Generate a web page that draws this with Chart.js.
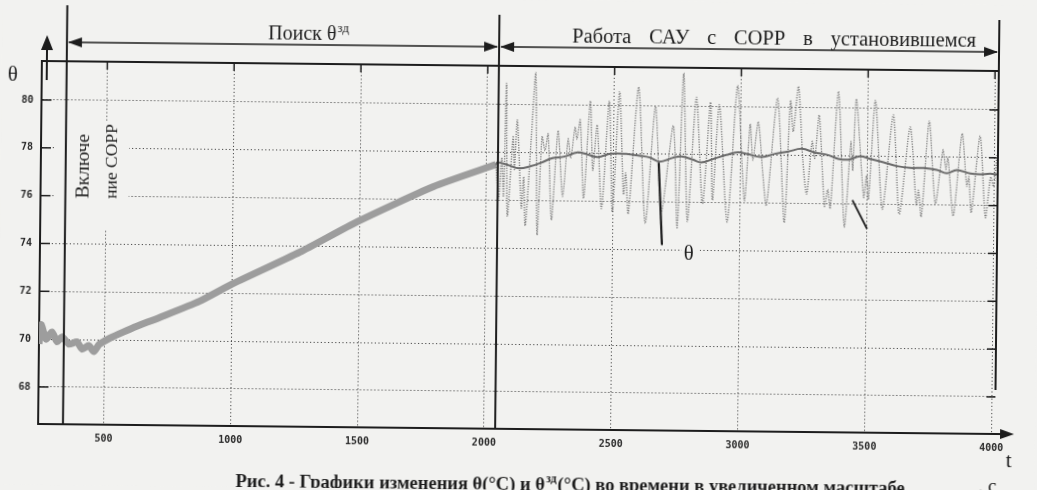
<!DOCTYPE html>
<html>
<head>
<meta charset="utf-8">
<script src="https://cdn.jsdelivr.net/npm/chart.js@4.4.0/dist/chart.umd.min.js"></script>
<style>
  html, body { margin: 0; padding: 0; background: #f2f2f0; overflow: hidden; }
  #canvas { display: block; transform: rotate(0.6deg); }
</style>
</head>
<body>
<canvas id="canvas" width="1037" height="490"></canvas>
<script>
// search phase (theta follows the ramp of the setpoint)
const searchT = [242, 250, 270, 293, 313, 333, 360, 392, 412, 439, 459, 479, 518, 557, 609, 715, 873, 995, 1267, 1492, 1791, 2036];
const searchV = [69.8, 70.6, 70.0, 70.3, 69.9, 70.1, 69.8, 69.9, 69.6, 69.75, 69.5, 69.8, 70.05, 70.25, 70.5, 70.95, 71.65, 72.35, 73.75, 75.05, 76.55, 77.5];

// steady state: measured theta
const thetaT = [2036, 2048, 2059, 2067, 2075, 2083, 2103, 2109, 2119, 2138, 2146, 2154, 2174, 2190, 2201, 2217, 2229, 2241, 2257, 2280,
  2300, 2320, 2331, 2347, 2355, 2367, 2383, 2406, 2418, 2434, 2454, 2481, 2497, 2521, 2540, 2548, 2560, 2596, 2627, 2663,
  2690, 2734, 2753, 2773, 2793, 2824, 2852, 2880, 2891, 2915, 2950, 2986, 3017, 3037, 3049, 3069, 3088, 3104, 3144, 3175,
  3195, 3207, 3226, 3246, 3262, 3282, 3293, 3309, 3333, 3345, 3356, 3384, 3412, 3435, 3443, 3455, 3487, 3498, 3506, 3530,
  3561, 3601, 3628, 3668, 3695, 3703, 3715, 3743, 3770, 3798, 3810, 3818, 3841, 3873, 3893, 3901, 3912, 3944, 3968, 3987,
  3999, 4011];
const thetaV = [77.5, 76.1, 77.8, 76.2, 80.9, 75.35, 78.7, 77.3, 79.37, 75.7, 77.0, 74.95, 78.5, 81.34, 74.58, 78.7, 78.1, 78.8, 75.2, 78.94,
  76.2, 78.6, 77.8, 79.1, 78.6, 79.4, 76.13, 80.2, 77.3, 79.2, 75.7, 80.2, 75.6, 80.6, 76.3, 77.2, 75.5, 80.8, 75.1, 80.0,
  75.6, 79.2, 74.9, 81.4, 75.2, 80.4, 75.95, 80.2, 76.1, 80.1, 75.2, 80.9, 76.1, 79.3, 77.8, 79.4, 77.3, 75.9, 80.4, 75.2,
  80.3, 79.0, 80.9, 77.8, 76.4, 78.6, 77.9, 79.7, 75.9, 76.6, 75.8, 80.7, 75.05, 78.6, 77.4, 80.4, 76.3, 77.2, 76.2, 80.35,
  75.8, 79.75, 75.6, 79.25, 76.0, 76.6, 75.5, 79.5, 76.05, 78.3, 77.5, 78.0, 75.55, 79.0, 76.8, 77.2, 75.7, 78.9, 75.5, 77.2,
  76.8, 78.1];

// steady state: setpoint theta_zd
const setT = [2036, 2042, 2082, 2128, 2174, 2213, 2259, 2305, 2358, 2397, 2437, 2489, 2549, 2602, 2642, 2681, 2734, 2766, 2812, 2845,
  2891, 2944, 2990, 3030, 3083, 3136, 3188, 3241, 3293, 3346, 3385, 3425, 3471, 3511, 3564, 3617, 3669, 3722, 3774, 3814,
  3853, 3906, 3945, 3985, 4011];
const setV = [77.5, 77.59, 77.49, 77.35, 77.45, 77.59, 77.79, 77.86, 78.04, 77.96, 77.86, 78.0, 78.0, 77.93, 77.86, 77.69, 77.86, 77.92, 77.79, 77.68,
  77.82, 78.0, 78.12, 78.04, 77.93, 78.07, 78.17, 78.29, 78.14, 78.04, 77.89, 77.86, 78.0, 77.9, 77.76, 77.61, 77.54, 77.54, 77.47, 77.33,
  77.47, 77.33, 77.3, 77.33, 77.3];

const xTicks = [500, 1000, 1500, 2000, 2500, 3000, 3500, 4000];
const yTicks = [68, 70, 72, 74, 76, 78, 80];

const onT = 340;       // включение СОРР
const steadyT = 2044;  // начало установившегося режима

const bg = '#f2f2f0';
const ink = '#1d1d1d';
const serif = '"Liberation Serif", "DejaVu Serif", serif';

function pts(ts, vs) {
  return ts.map((t, i) => ({ x: t, y: vs[i] }));
}

function head(ctx, x, y, dir) {
  const L = 14, W = 5;
  ctx.beginPath();
  if (dir === 'r') { ctx.moveTo(x, y); ctx.lineTo(x - L, y - W); ctx.lineTo(x - L, y + W); }
  if (dir === 'l') { ctx.moveTo(x, y); ctx.lineTo(x + L, y - W); ctx.lineTo(x + L, y + W); }
  if (dir === 'u') { ctx.moveTo(x, y); ctx.lineTo(x - 6, y + 15); ctx.lineTo(x + 6, y + 15); }
  ctx.closePath();
  ctx.fill();
}

function line(ctx, x1, y1, x2, y2, w) {
  ctx.lineWidth = w;
  ctx.beginPath();
  ctx.moveTo(x1, y1);
  ctx.lineTo(x2, y2);
  ctx.stroke();
}

const decor = {
  id: 'decor',
  beforeDraw(chart) {
    const ctx = chart.ctx;
    ctx.save();
    ctx.fillStyle = bg;
    ctx.fillRect(0, 0, chart.width, chart.height);
    ctx.restore();
  },
  beforeDatasetsDraw(chart) {
    const ctx = chart.ctx;
    const a = chart.chartArea;
    const sx = chart.scales.x, sy = chart.scales.y;
    ctx.save();
    // blank patches behind the labels
    ctx.fillStyle = bg;
    ctx.fillRect(55, 125, 73, 110);
    const lx = sx.getPixelForValue(2804), ly = sy.getPixelForValue(73.69);
    ctx.fillRect(lx - 8, ly - 17, 18, 22);
    // frame and inward ticks
    ctx.strokeStyle = ink;
    line(ctx, a.left - 1, a.top, a.right, a.top, 2);
    yTicks.forEach(v => {
      const y = sy.getPixelForValue(v);
      line(ctx, a.left, y, a.left + 10, y, 1.5);
      line(ctx, a.right - 9, y, a.right, y, 1.5);
    });
    xTicks.forEach(v => {
      const x = sx.getPixelForValue(v);
      line(ctx, x, a.top, x, a.top + 8, 1.5);
    });
    ctx.restore();
  },
  afterDatasetsDraw(chart) {
    const ctx = chart.ctx;
    const a = chart.chartArea;
    const sx = chart.scales.x, sy = chart.scales.y;
    const xOn = sx.getPixelForValue(onT);
    const xSt = sx.getPixelForValue(steadyT);
    ctx.save();
    ctx.strokeStyle = ink;
    ctx.fillStyle = ink;

    // vertical phase lines
    line(ctx, xOn, 10, xOn, a.bottom, 2);
    line(ctx, xSt, 15, xSt, a.bottom, 2);
    line(ctx, a.right, 15, a.right, 385, 2);

    // phase arrows
    const ay = 47;
    line(ctx, xOn + 2, ay, xSt - 2, ay, 1.5);
    head(ctx, xOn + 1, ay, 'l');
    head(ctx, xSt - 1, ay, 'r');
    line(ctx, xSt + 2, ay, a.right - 2, ay, 1.5);
    head(ctx, xSt + 1, ay, 'l');
    head(ctx, a.right - 1, ay, 'r');

    // y arrow
    line(ctx, 45, 52, 45, 85, 2);
    head(ctx, 45, 40, 'u');

    // x axis arrow
    line(ctx, a.right, a.bottom, 1003, a.bottom, 2);
    head(ctx, 1016, a.bottom, 'r');

    // pointers
    line(ctx, sx.getPixelForValue(2678), sy.getPixelForValue(77.64), sx.getPixelForValue(2694), sy.getPixelForValue(74.21), 2.2);
    line(ctx, sx.getPixelForValue(3443), sy.getPixelForValue(76.17), sx.getPixelForValue(3502), sy.getPixelForValue(74.97), 1.8);

    // texts
    ctx.textBaseline = 'alphabetic';
    ctx.textAlign = 'left';
    ctx.font = '21px ' + serif;
    ctx.fillText('θ', 6, 86);
    ctx.fillText('θ', sx.getPixelForValue(2804) - 6, sy.getPixelForValue(73.69) + 2);
    ctx.fillText('t', 1008, 462);
    ctx.font = '19px ' + serif;
    ctx.fillText(', с', 981, 487);

    // "Поиск θзд"
    ctx.font = '20px ' + serif;
    let s = 'Поиск θ';
    ctx.fillText(s, 266, 42);
    let w = ctx.measureText(s).width;
    ctx.font = '13px ' + serif;
    ctx.fillText('зд', 266 + w + 1, 34);

    // justified phrase over the steady-state arrow
    ctx.font = '20.5px ' + serif;
    const words = ['Работа', 'САУ', 'с', 'СОРР', 'в', 'установившемся'];
    const x0 = 570, x1 = 974;
    const tw = words.reduce((acc, wd) => acc + ctx.measureText(wd).width, 0);
    const gap = (x1 - x0 - tw) / (words.length - 1);
    let cx = x0;
    words.forEach(wd => {
      ctx.fillText(wd, cx, 42);
      cx += ctx.measureText(wd).width + gap;
    });

    // vertical label
    ctx.font = '19.5px ' + serif;
    ctx.save();
    ctx.translate(88, 203);
    ctx.rotate(-Math.PI / 2);
    ctx.fillText('Включе', 0, 0);
    ctx.restore();
    ctx.font = '17.5px ' + serif;
    ctx.save();
    ctx.translate(116, 203);
    ctx.rotate(-Math.PI / 2);
    ctx.fillText('ние СОРР', 0, 0);
    ctx.restore();

    // caption
    ctx.font = 'bold 18.5px ' + serif;
    s = 'Рис. 4 - Графики изменения θ(°С) и θ';
    ctx.fillText(s, 238, 490);
    w = ctx.measureText(s).width;
    ctx.font = 'bold 12px ' + serif;
    ctx.fillText('зд', 238 + w + 1, 482);
    const w2 = ctx.measureText('зд').width;
    ctx.font = 'bold 18.5px ' + serif;
    ctx.fillText('(°С) во времени в увеличенном масштабе', 238 + w + w2 + 2, 490);

    ctx.restore();
  }
};

const canvas = document.getElementById('canvas');

new Chart(canvas, {
  type: 'line',
  data: {
    datasets: [
      {
        label: 'θзд',
        data: pts(setT, setV),
        borderColor: '#6a6a6a',
        borderWidth: 2,
        pointRadius: 0,
        tension: 0.4
      },
      {
        label: 'θ',
        data: pts(thetaT, thetaV),
        borderColor: '#7c7c7c',
        borderWidth: 1.4,
        borderDash: [1.2, 1.3],
        pointRadius: 0,
        tension: 0.25
      },
      {
        label: 'поиск',
        data: pts(searchT, searchV),
        borderColor: '#9d9d9d',
        borderWidth: 7,
        pointRadius: 0,
        tension: 0.2
      }
    ]
  },
  options: {
    responsive: false,
    animation: false,
    layout: { padding: { left: 0, top: 66, right: 40, bottom: 0 } },
    plugins: { legend: { display: false }, tooltip: { enabled: false } },
    scales: {
      x: {
        type: 'linear',
        min: 242,
        max: 4015,
        afterBuildTicks: scale => { scale.ticks = xTicks.map(v => ({ value: v })); },
        afterFit: scale => { scale.height = 61; },
        grid: { color: '#4a4a4a', lineWidth: 1, drawTicks: false },
        border: { display: true, color: ink, width: 2, dash: [1.2, 2.4] },
        ticks: {
          padding: 8,
          maxRotation: 0,
          color: '#2a2a2a',
          callback: v => String(v),
          font: { family: '"DejaVu Sans Mono", monospace', size: 10, weight: 'bold' }
        }
      },
      y: {
        min: 66.45,
        max: 81.63,
        afterBuildTicks: scale => { scale.ticks = yTicks.map(v => ({ value: v })); },
        afterFit: scale => { scale.width = 40; },
        grid: { color: '#4a4a4a', lineWidth: 1, drawTicks: false },
        border: { display: true, color: ink, width: 2, dash: [1.2, 2.4] },
        ticks: {
          padding: 8,
          color: '#2a2a2a',
          callback: v => String(v),
          font: { family: '"DejaVu Sans Mono", monospace', size: 10, weight: 'bold' }
        }
      }
    }
  },
  plugins: [decor]
});
</script>
</body>
</html>
